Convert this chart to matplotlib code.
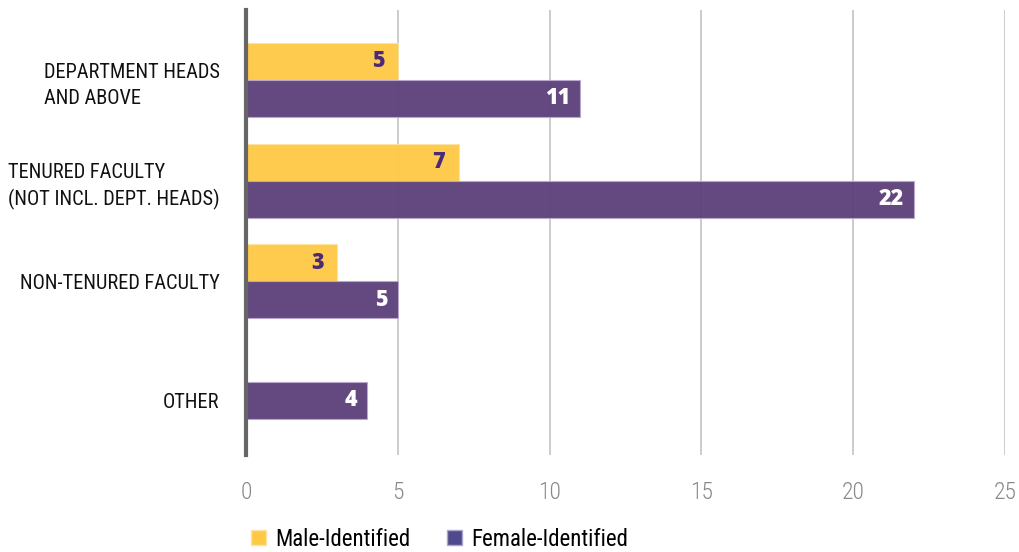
import numpy as np
import matplotlib.pyplot as plt
from matplotlib.patches import Patch

categories = ["DEPARTMENT HEADS\nAND ABOVE",
              "TENURED FACULTY\n(NOT INCL. DEPT. HEADS)",
              "NON-TENURED FACULTY",
              "OTHER"]
male = [5, 7, 3, 0]
female = [11, 22, 5, 4]
x_ticks = [0, 5, 10, 15, 20, 25]

yellow = "#FFC944"
purple = "#5F437D"
legend_purple = "#4F4A8C"
font = ["Roboto Condensed", "DejaVu Sans"]
num_font = ["Open Sans", "DejaVu Sans"]

fig = plt.figure(figsize=(10.2, 5.52), dpi=100)
ax = fig.add_axes([0.2412, 0.1757, 0.7441, 0.8062])

y = np.arange(len(categories))
h = 0.367
ax.barh(y - h / 2, male, height=h, color=yellow, alpha=0.95,
        edgecolor="#FBE3A6", linewidth=0.8, zorder=3)
ax.barh(y + h / 2, female, height=h, color=purple, alpha=0.97,
        edgecolor="#B9A8CC", linewidth=0.8, zorder=3)

for i in range(len(categories)):
    if male[i] > 0:
        ax.text(male[i] - 0.45, y[i] - h / 2, str(male[i]), ha="right", va="center",
                color="#4B2A78", fontsize=15.5, fontweight="heavy", family=num_font, zorder=4)
    if female[i] > 0:
        ax.text(female[i] - 0.33, y[i] + h / 2, str(female[i]), ha="right", va="center",
                color="white", fontsize=15.5, fontweight="heavy", family=num_font, zorder=4)

# labels sit on the group centre, or on the single bar when only one exists
tick_pos = [y[i] if male[i] > 0 else y[i] + h / 2 for i in range(len(categories))]
ax.set_yticks(tick_pos)
ax.set_yticklabels(categories, family=font, fontsize=14.7, color="#111111",
                   linespacing=1.45, multialignment="left")
ax.tick_params(axis="y", length=0, pad=19)
ax.set_ylim(3.725, -0.695)

ax.set_xlim(0, 25)
ax.set_xticks(x_ticks)
ax.set_xticklabels([str(t) for t in x_ticks], family=font, fontsize=17,
                   fontweight="light", color="#888888")
ax.tick_params(axis="x", length=0, pad=19)
ax.grid(axis="x", color="#C8C8C8", linewidth=1.3, zorder=0)
ax.set_axisbelow(True)

for s in ["top", "right", "bottom"]:
    ax.spines[s].set_visible(False)
ax.spines["left"].set_color("#666666")
ax.spines["left"].set_linewidth(3)
ax.spines["left"].set_zorder(5)

handles = [Patch(facecolor=yellow, edgecolor="#FBE3A6"),
           Patch(facecolor=legend_purple, edgecolor="#A9A8CC")]
fig.legend(handles, ["Male-Identified", "Female-Identified"], loc="lower left",
           bbox_to_anchor=(0.226, -0.035), ncol=2, frameon=False,
           prop={"family": font, "size": 16.5}, handlelength=0.65, handleheight=0.65,
           handletextpad=0.4, columnspacing=1.6)

fig.savefig("out.png", dpi=100)
